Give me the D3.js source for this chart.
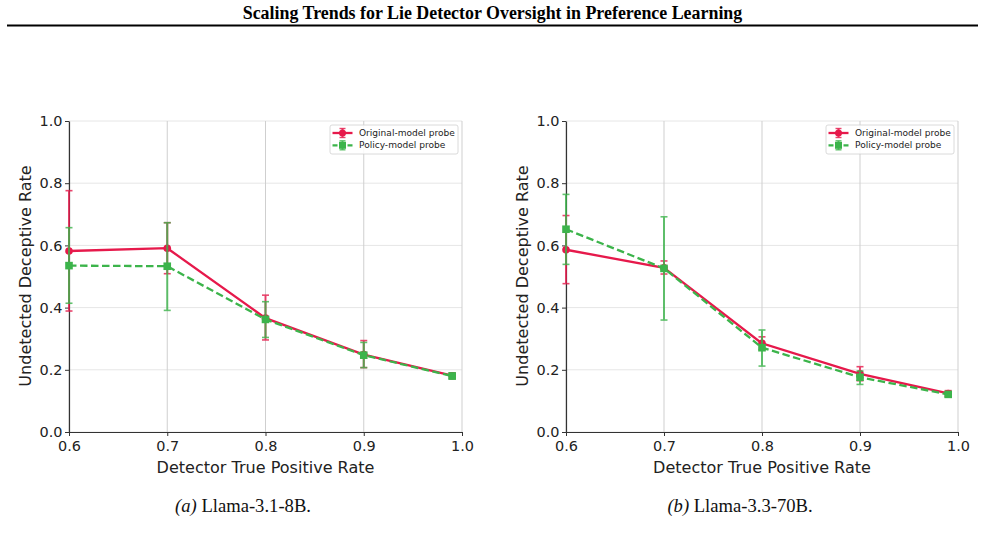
<!DOCTYPE html>
<html>
<head>
<meta charset="utf-8">
<script src="https://cdn.jsdelivr.net/npm/d3@7"></script>
<style>
  html, body { margin: 0; padding: 0; background: #fff; }
  svg { display: block; }
</style>
</head>
<body>
<svg id="chart" width="985" height="534"></svg>
<script>
// ---------------- data ----------------
const titleText = "Scaling Trends for Lie Detector Oversight in Preference Learning";
const xLabel = "Detector True Positive Rate";
const yLabel = "Undetected Deceptive Rate";
const seriesNames = ["Original-model probe", "Policy-model probe"];
const xTicks = [0.6, 0.7, 0.8, 0.9, 1.0];
const yTicks = [0.0, 0.2, 0.4, 0.6, 0.8, 1.0];
const tprValues = [0.6, 0.7, 0.8, 0.9, 0.99];

// (a) Llama-3.1-8B
const origMeanA = [0.582, 0.591, 0.366, 0.249, 0.181];
const origLoA   = [0.389, 0.509, 0.296, 0.207, 0.172];
const origHiA   = [0.776, 0.673, 0.440, 0.294, 0.190];
const polMeanA  = [0.535, 0.533, 0.362, 0.247, 0.180];
const polLoA    = [0.414, 0.391, 0.304, 0.207, 0.171];
const polHiA    = [0.657, 0.673, 0.419, 0.288, 0.189];

// (b) Llama-3.3-70B
const origMeanB = [0.586, 0.528, 0.285, 0.187, 0.124];
const origLoB   = [0.477, 0.508, 0.265, 0.165, 0.115];
const origHiB   = [0.696, 0.550, 0.306, 0.210, 0.133];
const polMeanB  = [0.652, 0.526, 0.271, 0.176, 0.121];
const polLoB    = [0.539, 0.360, 0.212, 0.153, 0.113];
const polHiB    = [0.764, 0.692, 0.328, 0.196, 0.129];

const captionA = ["(a)", " Llama-3.1-8B."];
const captionB = ["(b)", " Llama-3.3-70B."];

// ---------------- drawing ----------------
const svg = d3.select("#chart");
const RED = "#e6194b", GREEN = "#3cb44b";
const sans = "'DejaVu Sans', 'Noto Sans', sans-serif";
const serif = "'Liberation Serif', 'Times New Roman', serif";

// measure helper: font size that gives a target width
function fitSize(text, family, weight, targetW) {
  const t = svg.append("text").attr("font-family", family).attr("font-weight", weight)
    .attr("font-size", 20).text(text);
  const w = t.node().getComputedTextLength();
  t.remove();
  return 20 * targetW / w;
}
const tickFS = fitSize("0.6", sans, "normal", 23);
const labelFS = fitSize(xLabel, sans, "normal", 218);
const legendFS = fitSize(seriesNames[0], sans, "normal", 96);
const captionFS = fitSize(captionA[0] + captionA[1], serif, "normal", 135);
const titleFS = fitSize(titleText, serif, "bold", 500);

// Title
svg.append("text")
  .attr("x", 492.5).attr("y", 19)
  .attr("text-anchor", "middle")
  .attr("font-family", serif).attr("font-weight", "bold")
  .attr("font-size", titleFS)
  .text(titleText);
svg.append("line")
  .attr("x1", 7).attr("x2", 978).attr("y1", 25.5).attr("y2", 25.5)
  .attr("stroke", "#000").attr("stroke-width", 2);

function panel(x0, x1, orig, pol, caption, capCenter) {
  const top = 121, bottom = 432;
  const x = d3.scaleLinear().domain([0.6, 1.0]).range([x0, x1]);
  const y = d3.scaleLinear().domain([0, 1]).range([bottom, top]);
  const g = svg.append("g");

  // grid
  g.append("g").selectAll("line").data(yTicks).join("line")
    .attr("x1", x0).attr("x2", x1)
    .attr("y1", d => y(d)).attr("y2", d => y(d))
    .attr("stroke", "#e6e6e6").attr("stroke-width", 1);
  g.append("g").selectAll("line").data(xTicks).join("line")
    .attr("x1", d => x(d)).attr("x2", d => x(d))
    .attr("y1", top).attr("y2", bottom)
    .attr("stroke", "#cfcfcf").attr("stroke-width", 1);

  // axes
  const xAxis = d3.axisBottom(x).tickValues(xTicks).tickFormat(d3.format(".1f"))
    .tickSizeInner(4).tickSizeOuter(0).tickPadding(4.5);
  const yAxis = d3.axisLeft(y).tickValues(yTicks).tickFormat(d3.format(".1f"))
    .tickSizeInner(4).tickSizeOuter(0).tickPadding(2.5);
  const gx = g.append("g").attr("transform", `translate(0,${bottom})`).call(xAxis);
  const gy = g.append("g").attr("transform", `translate(${x0},0)`).call(yAxis);
  [gx, gy].forEach(a => {
    a.attr("font-family", null).attr("font-size", null);
    a.selectAll("text").attr("font-family", sans).attr("font-size", tickFS).attr("fill", "#222");
    a.selectAll("line").attr("stroke", "#333").attr("stroke-width", 1);
    a.select(".domain").attr("stroke", "#333").attr("stroke-width", 1.2);
  });

  g.append("text")
    .attr("x", (x0 + x1) / 2).attr("y", 473)
    .attr("text-anchor", "middle")
    .attr("font-family", sans).attr("font-size", labelFS).attr("fill", "#222")
    .text(xLabel);
  g.append("text")
    .attr("transform", `translate(${x0 - 38},${(top + bottom) / 2 - 0.5}) rotate(-90)`)
    .attr("text-anchor", "middle")
    .attr("font-family", sans).attr("font-size", labelFS).attr("fill", "#222")
    .text(yLabel);

  // series
  const series = [
    { name: seriesNames[0], color: RED, dash: null, marker: "circle", s: orig },
    { name: seriesNames[1], color: GREEN, dash: "7.5,3.5", marker: "square", s: pol }
  ];
  const cap = 3.5;
  series.forEach(se => {
    const pts = tprValues.map((t, i) => ({ t, m: se.s[0][i], lo: se.s[1][i], hi: se.s[2][i] }));
    const eg = g.append("g").attr("opacity", 0.8);
    eg.selectAll("line.v").data(pts).join("line").attr("class", "v")
      .attr("x1", d => x(d.t)).attr("x2", d => x(d.t))
      .attr("y1", d => y(d.lo)).attr("y2", d => y(d.hi))
      .attr("stroke", se.color).attr("stroke-width", 2);
    eg.selectAll("line.c1").data(pts).join("line").attr("class", "c1")
      .attr("x1", d => x(d.t) - cap).attr("x2", d => x(d.t) + cap)
      .attr("y1", d => y(d.lo)).attr("y2", d => y(d.lo))
      .attr("stroke", se.color).attr("stroke-width", 1.6);
    eg.selectAll("line.c2").data(pts).join("line").attr("class", "c2")
      .attr("x1", d => x(d.t) - cap).attr("x2", d => x(d.t) + cap)
      .attr("y1", d => y(d.hi)).attr("y2", d => y(d.hi))
      .attr("stroke", se.color).attr("stroke-width", 1.6);

    g.append("path").datum(pts)
      .attr("d", d3.line().x(d => x(d.t)).y(d => y(d.m)))
      .attr("fill", "none").attr("stroke", se.color).attr("stroke-width", 2.3)
      .attr("stroke-dasharray", se.dash);
    if (se.marker === "circle") {
      g.append("g").selectAll("circle").data(pts).join("circle")
        .attr("cx", d => x(d.t)).attr("cy", d => y(d.m)).attr("r", 3.8)
        .attr("fill", se.color);
    } else {
      g.append("g").selectAll("rect").data(pts).join("rect")
        .attr("x", d => x(d.t) - 3.8).attr("y", d => y(d.m) - 3.8)
        .attr("width", 7.6).attr("height", 7.6)
        .attr("fill", se.color);
    }
  });

  // legend
  const lx = x1 - 132, ly = 125;
  const lg = g.append("g").attr("transform", `translate(${lx},${ly})`);
  lg.append("rect").attr("x", 0).attr("y", 0).attr("width", 128).attr("height", 29)
    .attr("rx", 2).attr("fill", "#fff").attr("fill-opacity", 0.85)
    .attr("stroke", "#d0d0d0").attr("stroke-width", 0.8);
  series.forEach((se, i) => {
    const cy = 8 + i * 12.3;
    lg.append("line").attr("x1", 2.5).attr("x2", 22.5).attr("y1", cy).attr("y2", cy)
      .attr("stroke", se.color).attr("stroke-width", 2.3)
      .attr("stroke-dasharray", se.dash ? "5,2.5" : null);
    lg.append("line").attr("x1", 12.5).attr("x2", 12.5).attr("y1", cy - 4.5).attr("y2", cy + 4.5)
      .attr("stroke", se.color).attr("stroke-width", 2).attr("opacity", 0.8);
    lg.append("line").attr("x1", 9.5).attr("x2", 15.5).attr("y1", cy - 4.5).attr("y2", cy - 4.5)
      .attr("stroke", se.color).attr("stroke-width", 1.4).attr("opacity", 0.8);
    lg.append("line").attr("x1", 9.5).attr("x2", 15.5).attr("y1", cy + 4.5).attr("y2", cy + 4.5)
      .attr("stroke", se.color).attr("stroke-width", 1.4).attr("opacity", 0.8);
    if (se.marker === "circle") {
      lg.append("circle").attr("cx", 12.5).attr("cy", cy).attr("r", 3.5).attr("fill", se.color);
    } else {
      lg.append("rect").attr("x", 9).attr("y", cy - 3.5).attr("width", 7).attr("height", 7).attr("fill", se.color);
    }
    lg.append("text").attr("x", 29).attr("y", cy + 3)
      .attr("font-family", sans).attr("font-size", legendFS).attr("fill", "#222")
      .text(se.name);
  });

  // caption
  const ct = svg.append("text").attr("x", capCenter).attr("y", 512)
    .attr("text-anchor", "middle")
    .attr("font-family", serif).attr("font-size", captionFS).attr("fill", "#111");
  ct.append("tspan").attr("font-style", "italic").text(caption[0]);
  ct.append("tspan").text(caption[1]);
}

panel(69, 462, [origMeanA, origLoA, origHiA], [polMeanA, polLoA, polHiA], captionA, 243);
panel(566, 958, [origMeanB, origLoB, origHiB], [polMeanB, polLoB, polHiB], captionB, 740);
</script>
</body>
</html>
